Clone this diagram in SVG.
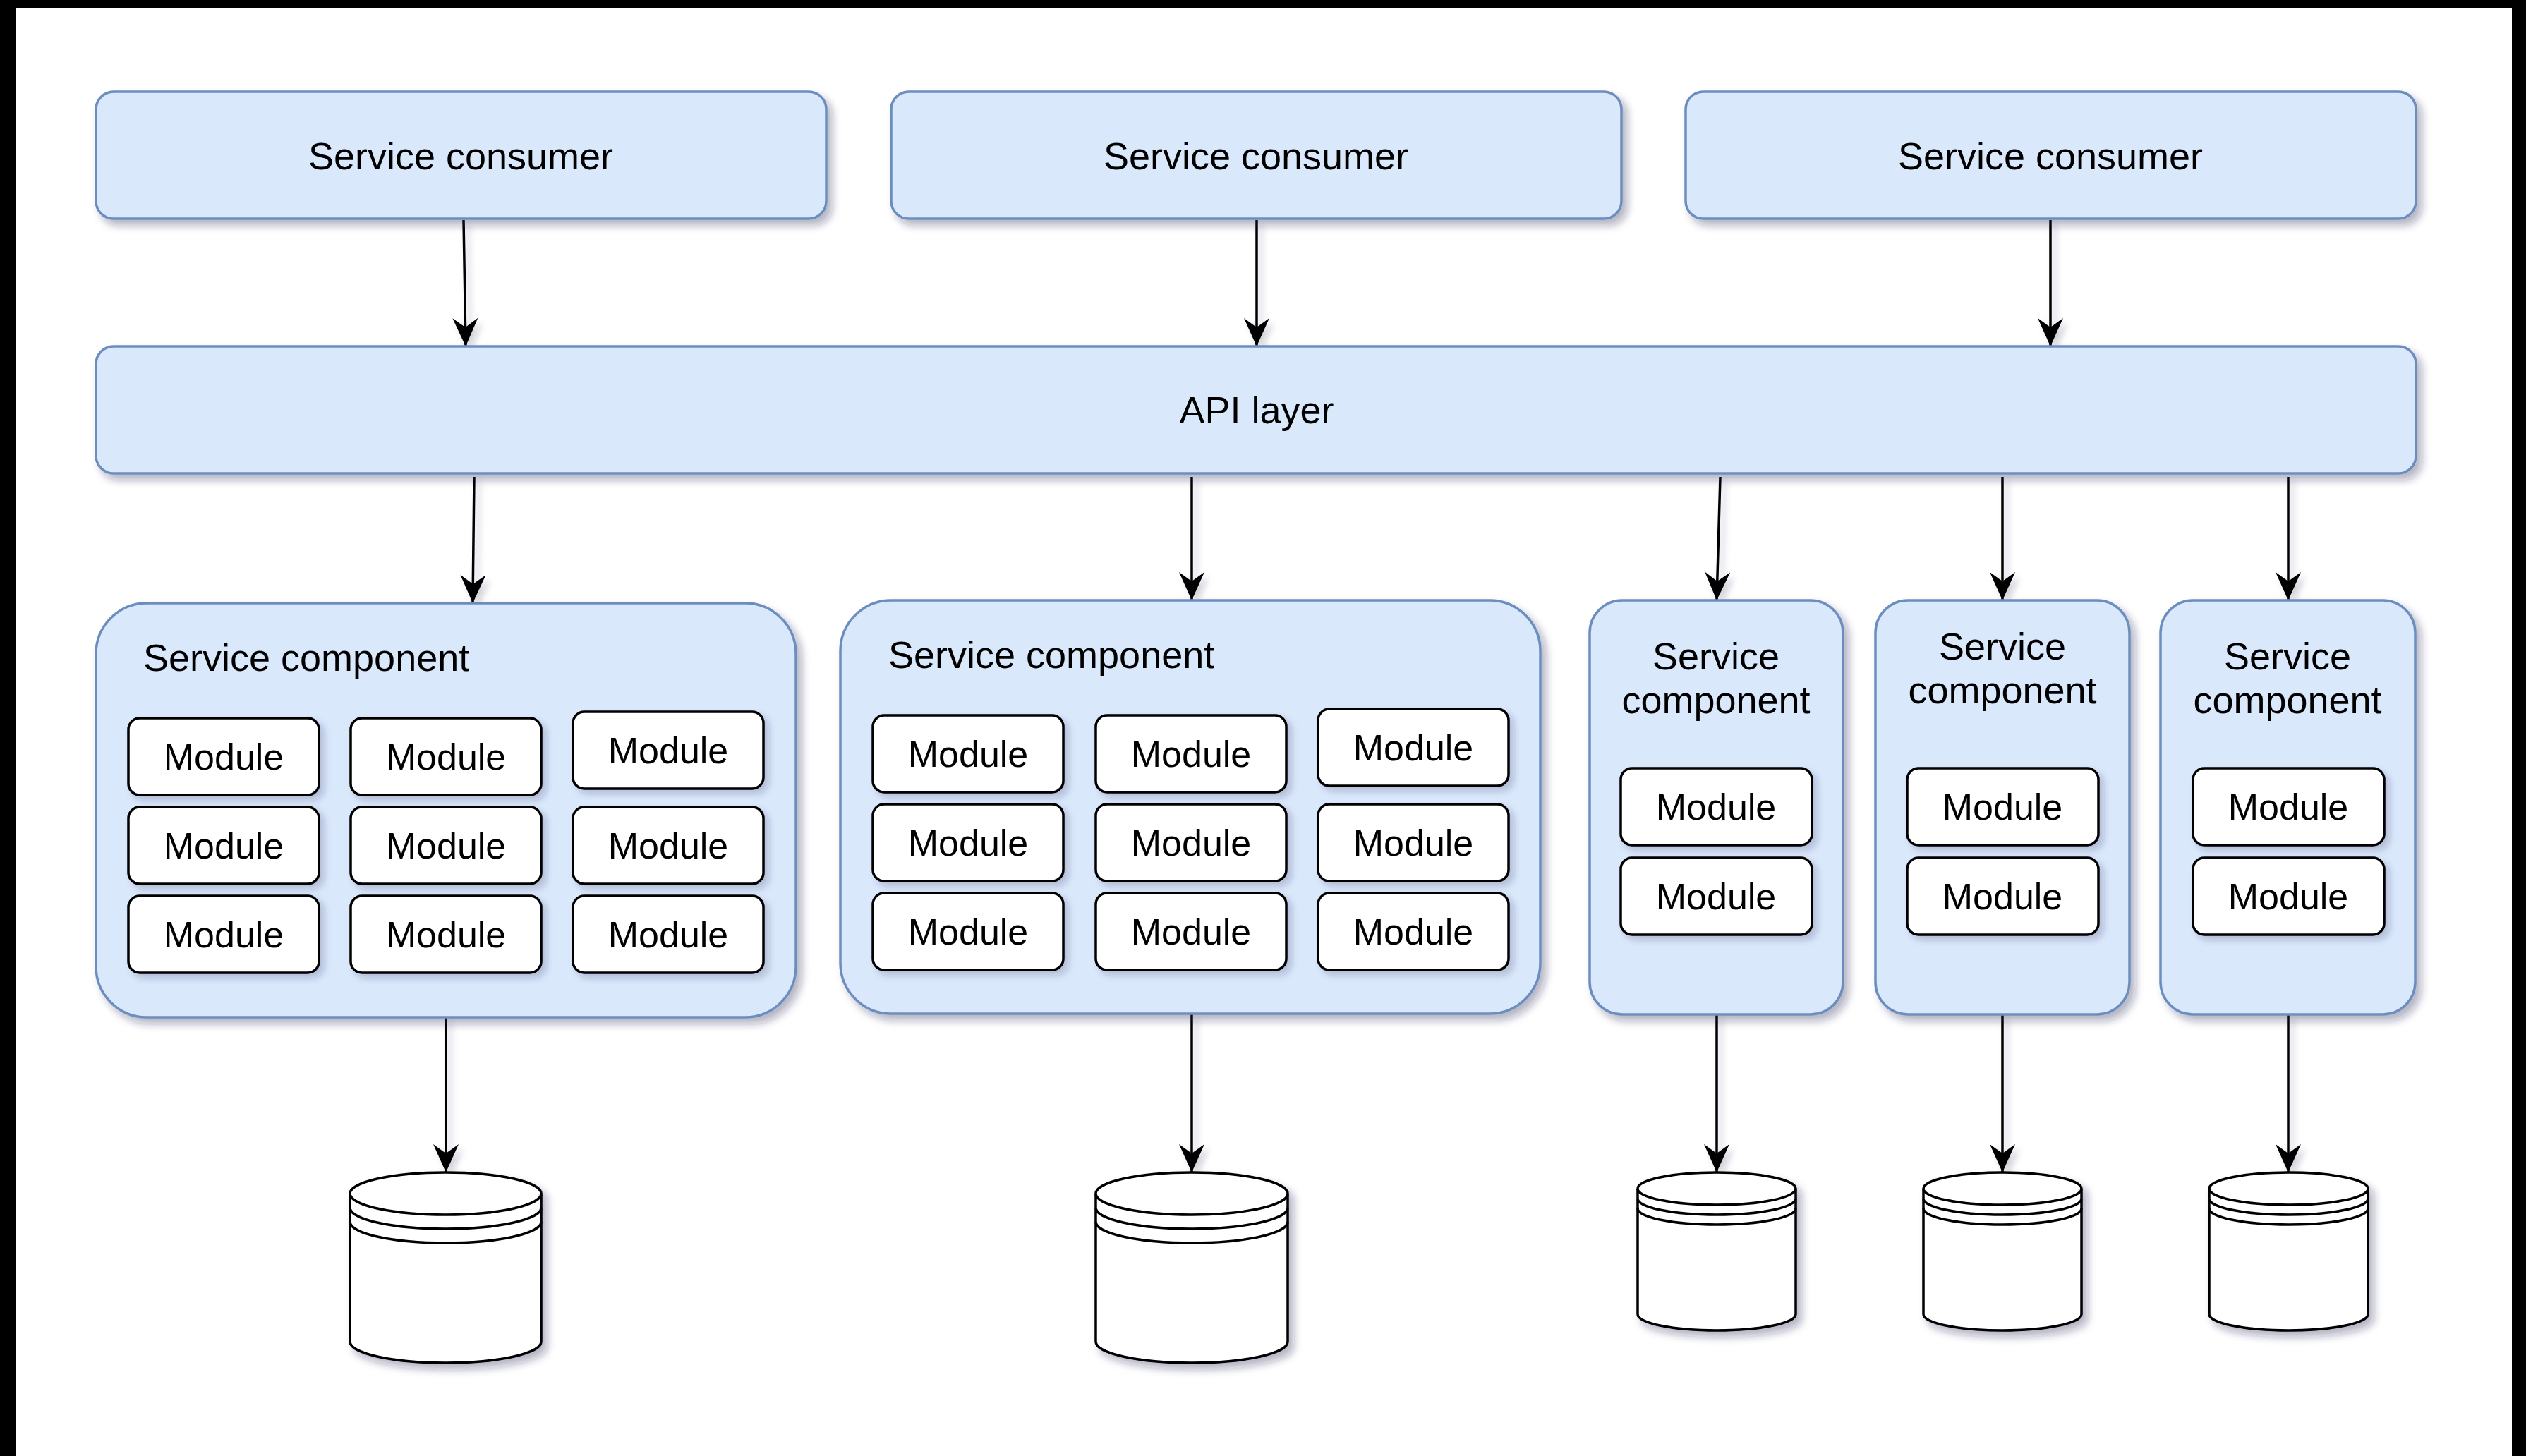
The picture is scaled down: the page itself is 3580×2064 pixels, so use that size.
<svg xmlns="http://www.w3.org/2000/svg" width="3580" height="2064" viewBox="0 0 3580 2064">
<style>
.blue{fill:#dae8fc;stroke:#6c8ebf;stroke-width:3.5}
.mod{fill:#ffffff;stroke:#000;stroke-width:3.5}
.db{fill:#ffffff;stroke:#000;stroke-width:3.5}
.ring{fill:none;stroke:#000;stroke-width:3.5}
.edge{fill:none;stroke:#000;stroke-width:3.5}
text{font-family:"Liberation Sans",Arial,Helvetica,sans-serif;fill:#000}
.lbl{font-size:54px;text-anchor:middle}
.lbll{font-size:54px;text-anchor:start}
.mt{font-size:52px;text-anchor:middle}
</style>
<defs>
<filter id="sh" x="-10%" y="-10%" width="130%" height="140%">
<feDropShadow dx="7" dy="8" stdDeviation="6" flood-color="#20204a" flood-opacity="0.33"/>
</filter>
<filter id="shl" x="-200%" y="-10%" width="500%" height="130%">
<feDropShadow dx="6" dy="6" stdDeviation="5" flood-color="#20204a" flood-opacity="0.22"/>
</filter>
<marker id="arr" viewBox="0 0 40 36" refX="40" refY="18" markerWidth="40" markerHeight="36" markerUnits="userSpaceOnUse" orient="auto">
<path d="M0,0 L40,18 L0,36 L13,18 Z" fill="#000"/>
</marker>
</defs>
<rect x="0" y="0" width="3580" height="2064" fill="#ffffff"/>
<rect x="0" y="0" width="3580" height="11" fill="#000"/>
<rect x="0" y="0" width="23" height="2064" fill="#000"/>
<rect x="3560" y="0" width="20" height="2064" fill="#000"/>

<g id="connectors" filter="url(#shl)">
<path class="edge" d="M657,312 L660,491" marker-end="url(#arr)"/>
<path class="edge" d="M1781,312 L1781,491" marker-end="url(#arr)"/>
<path class="edge" d="M2906,312 L2906,491" marker-end="url(#arr)"/>
<path class="edge" d="M672,676 L670,855" marker-end="url(#arr)"/>
<path class="edge" d="M1689,676 L1689,851" marker-end="url(#arr)"/>
<path class="edge" d="M2438,676 L2433,851" marker-end="url(#arr)"/>
<path class="edge" d="M2838,676 L2838,851" marker-end="url(#arr)"/>
<path class="edge" d="M3243,676 L3243,851" marker-end="url(#arr)"/>
<path class="edge" d="M632,1442 L632,1662" marker-end="url(#arr)"/>
<path class="edge" d="M1689,1437 L1689,1662" marker-end="url(#arr)"/>
<path class="edge" d="M2433,1438 L2433,1662" marker-end="url(#arr)"/>
<path class="edge" d="M2838,1438 L2838,1662" marker-end="url(#arr)"/>
<path class="edge" d="M3243,1438 L3243,1662" marker-end="url(#arr)"/>
</g>

<g id="consumer1"><rect class="blue" x="136" y="130" width="1035" height="180" rx="25" filter="url(#sh)"/><text class="lbl" x="653" y="240">Service consumer</text></g>
<g id="consumer2"><rect class="blue" x="1263" y="130" width="1035" height="180" rx="25" filter="url(#sh)"/><text class="lbl" x="1780" y="240">Service consumer</text></g>
<g id="consumer3"><rect class="blue" x="2389" y="130" width="1035" height="180" rx="25" filter="url(#sh)"/><text class="lbl" x="2906" y="240">Service consumer</text></g>

<g id="api-layer"><rect class="blue" x="136" y="491" width="3288" height="180" rx="25" filter="url(#sh)"/><text class="lbl" x="1781" y="600">API layer</text></g>

<g id="component1">
<rect class="blue" x="136" y="855" width="992" height="587" rx="72" filter="url(#sh)"/>
<text class="lbll" x="203" y="951">Service component</text>
<g id="c1m1"><rect class="mod" x="182" y="1018" width="270" height="109" rx="16" filter="url(#shl)"/><text class="mt" x="317" y="1091">Module</text></g>
<g id="c1m2"><rect class="mod" x="497" y="1018" width="270" height="109" rx="16" filter="url(#shl)"/><text class="mt" x="632" y="1091">Module</text></g>
<g id="c1m3"><rect class="mod" x="812" y="1009" width="270" height="109" rx="16" filter="url(#shl)"/><text class="mt" x="947" y="1082">Module</text></g>
<g id="c1m4"><rect class="mod" x="182" y="1144" width="270" height="109" rx="16" filter="url(#shl)"/><text class="mt" x="317" y="1217">Module</text></g>
<g id="c1m5"><rect class="mod" x="497" y="1144" width="270" height="109" rx="16" filter="url(#shl)"/><text class="mt" x="632" y="1217">Module</text></g>
<g id="c1m6"><rect class="mod" x="812" y="1144" width="270" height="109" rx="16" filter="url(#shl)"/><text class="mt" x="947" y="1217">Module</text></g>
<g id="c1m7"><rect class="mod" x="182" y="1270" width="270" height="109" rx="16" filter="url(#shl)"/><text class="mt" x="317" y="1343">Module</text></g>
<g id="c1m8"><rect class="mod" x="497" y="1270" width="270" height="109" rx="16" filter="url(#shl)"/><text class="mt" x="632" y="1343">Module</text></g>
<g id="c1m9"><rect class="mod" x="812" y="1270" width="270" height="109" rx="16" filter="url(#shl)"/><text class="mt" x="947" y="1343">Module</text></g>
</g>

<g id="component2">
<rect class="blue" x="1191" y="851" width="992" height="586" rx="72" filter="url(#sh)"/>
<text class="lbll" x="1259" y="947">Service component</text>
<g id="c2m1"><rect class="mod" x="1237" y="1014" width="270" height="109" rx="16" filter="url(#shl)"/><text class="mt" x="1372" y="1087">Module</text></g>
<g id="c2m2"><rect class="mod" x="1553" y="1014" width="270" height="109" rx="16" filter="url(#shl)"/><text class="mt" x="1688" y="1087">Module</text></g>
<g id="c2m3"><rect class="mod" x="1868" y="1005" width="270" height="109" rx="16" filter="url(#shl)"/><text class="mt" x="2003" y="1078">Module</text></g>
<g id="c2m4"><rect class="mod" x="1237" y="1140" width="270" height="109" rx="16" filter="url(#shl)"/><text class="mt" x="1372" y="1213">Module</text></g>
<g id="c2m5"><rect class="mod" x="1553" y="1140" width="270" height="109" rx="16" filter="url(#shl)"/><text class="mt" x="1688" y="1213">Module</text></g>
<g id="c2m6"><rect class="mod" x="1868" y="1140" width="270" height="109" rx="16" filter="url(#shl)"/><text class="mt" x="2003" y="1213">Module</text></g>
<g id="c2m7"><rect class="mod" x="1237" y="1266" width="270" height="109" rx="16" filter="url(#shl)"/><text class="mt" x="1372" y="1339">Module</text></g>
<g id="c2m8"><rect class="mod" x="1553" y="1266" width="270" height="109" rx="16" filter="url(#shl)"/><text class="mt" x="1688" y="1339">Module</text></g>
<g id="c2m9"><rect class="mod" x="1868" y="1266" width="270" height="109" rx="16" filter="url(#shl)"/><text class="mt" x="2003" y="1339">Module</text></g>
</g>

<g id="component3">
<rect class="blue" x="2253" y="851" width="359" height="587" rx="46" filter="url(#sh)"/>
<text class="lbl" x="2432" y="949">Service</text><text class="lbl" x="2432" y="1011">component</text>
<g id="c3m1"><rect class="mod" x="2297" y="1089" width="271" height="109" rx="16" filter="url(#shl)"/><text class="mt" x="2432" y="1162">Module</text></g>
<g id="c3m2"><rect class="mod" x="2297" y="1216" width="271" height="109" rx="16" filter="url(#shl)"/><text class="mt" x="2432" y="1289">Module</text></g>
</g>

<g id="component4">
<rect class="blue" x="2658" y="851" width="360" height="587" rx="46" filter="url(#sh)"/>
<text class="lbl" x="2838" y="935">Service</text><text class="lbl" x="2838" y="997">component</text>
<g id="c4m1"><rect class="mod" x="2703" y="1089" width="271" height="109" rx="16" filter="url(#shl)"/><text class="mt" x="2838" y="1162">Module</text></g>
<g id="c4m2"><rect class="mod" x="2703" y="1216" width="271" height="109" rx="16" filter="url(#shl)"/><text class="mt" x="2838" y="1289">Module</text></g>
</g>

<g id="component5">
<rect class="blue" x="3062" y="851" width="361" height="587" rx="46" filter="url(#sh)"/>
<text class="lbl" x="3242" y="949">Service</text><text class="lbl" x="3242" y="1011">component</text>
<g id="c5m1"><rect class="mod" x="3108" y="1089" width="271" height="109" rx="16" filter="url(#shl)"/><text class="mt" x="3243" y="1162">Module</text></g>
<g id="c5m2"><rect class="mod" x="3108" y="1216" width="271" height="109" rx="16" filter="url(#shl)"/><text class="mt" x="3243" y="1289">Module</text></g>
</g>

<g id="db1">
<path class="db" filter="url(#sh)" d="M496,1692 L496,1902 A135.5,30 0 0 0 767,1902 L767,1692 A135.5,30 0 0 0 496,1692 Z"/>
<path class="ring" d="M496,1692 A135.5,30 0 0 0 767,1692 M496,1712 A135.5,30 0 0 0 767,1712 M496,1732 A135.5,30 0 0 0 767,1732"/>
</g>
<g id="db2">
<path class="db" filter="url(#sh)" d="M1553,1692 L1553,1902 A136,30 0 0 0 1825,1902 L1825,1692 A136,30 0 0 0 1553,1692 Z"/>
<path class="ring" d="M1553,1692 A136,30 0 0 0 1825,1692 M1553,1712 A136,30 0 0 0 1825,1712 M1553,1732 A136,30 0 0 0 1825,1732"/>
</g>
<g id="db3">
<path class="db" filter="url(#sh)" d="M2321,1685 L2321,1863 A112,23 0 0 0 2545,1863 L2545,1685 A112,23 0 0 0 2321,1685 Z"/>
<path class="ring" d="M2321,1685 A112,23 0 0 0 2545,1685 M2321,1699 A112,23 0 0 0 2545,1699 M2321,1713 A112,23 0 0 0 2545,1713"/>
</g>
<g id="db4">
<path class="db" filter="url(#sh)" d="M2726,1685 L2726,1863 A112,23 0 0 0 2950,1863 L2950,1685 A112,23 0 0 0 2726,1685 Z"/>
<path class="ring" d="M2726,1685 A112,23 0 0 0 2950,1685 M2726,1699 A112,23 0 0 0 2950,1699 M2726,1713 A112,23 0 0 0 2950,1713"/>
</g>
<g id="db5">
<path class="db" filter="url(#sh)" d="M3131,1685 L3131,1863 A112.5,23 0 0 0 3356,1863 L3356,1685 A112.5,23 0 0 0 3131,1685 Z"/>
<path class="ring" d="M3131,1685 A112.5,23 0 0 0 3356,1685 M3131,1699 A112.5,23 0 0 0 3356,1699 M3131,1713 A112.5,23 0 0 0 3356,1713"/>
</g>
</svg>
